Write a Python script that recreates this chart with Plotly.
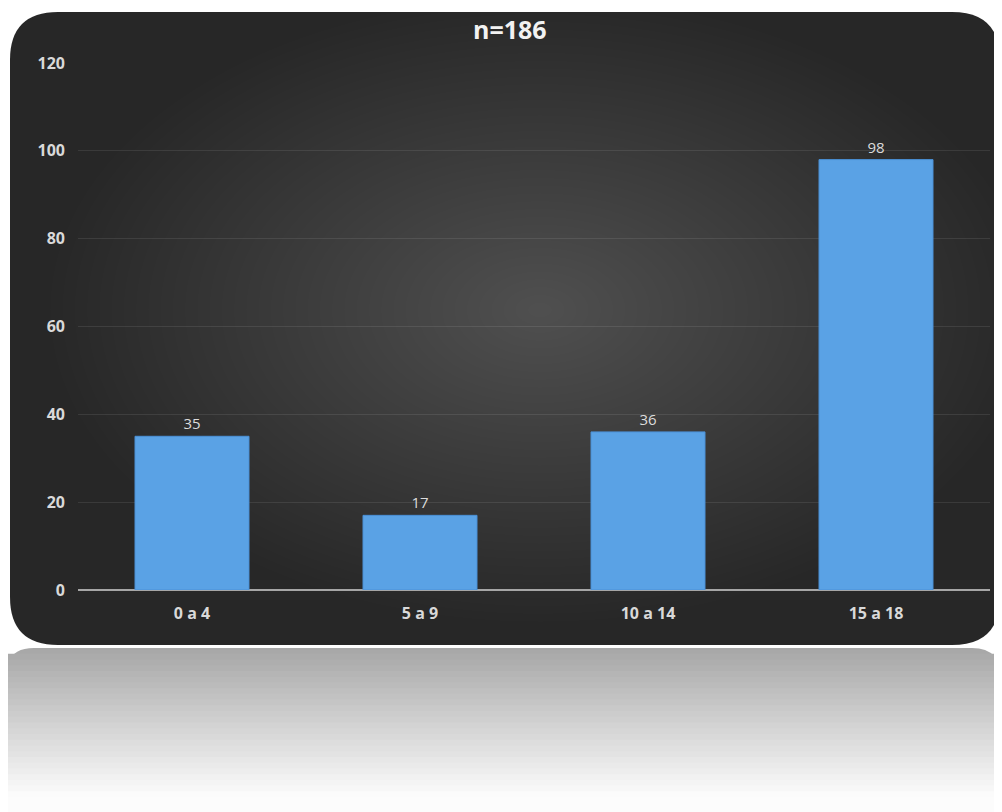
import plotly.graph_objects as go

categories = ["0 a 4", "5 a 9", "10 a 14", "15 a 18"]
values = [35, 17, 36, 98]
title_text = "n=186"
y_ticks = [0, 20, 40, 60, 80, 100, 120]

W, H = 1002, 812
OFF = 8  # page body margin
ML, MR, MT, MB = 70, 20, 55, 230
PW, PH = W - ML - MR, H - MT - MB


def px(x):
    return (x - OFF - ML) / PW


def py(y):
    return (H - MB - (y - OFF)) / PH


def rounded_rect(x0, y0, x1, y1, r):
    pts = [
        f"M{px(x0 + r)},{py(y0)}",
        f"L{px(x1 - r)},{py(y0)}",
        f"Q{px(x1)},{py(y0)} {px(x1)},{py(y0 + r)}",
        f"L{px(x1)},{py(y1 - r)}",
        f"Q{px(x1)},{py(y1)} {px(x1 - r)},{py(y1)}",
        f"L{px(x0 + r)},{py(y1)}",
        f"Q{px(x0)},{py(y1)} {px(x0)},{py(y1 - r)}",
        f"L{px(x0)},{py(y0 + r)}",
        f"Q{px(x0)},{py(y0)} {px(x0 + r)},{py(y0)}",
        "Z",
    ]
    return " ".join(pts)


shapes = []
# reflection (gray fading to white)
n_strips = 30
top, bottom = 648, 820
for i in range(n_strips):
    t = i / (n_strips - 1)
    y0 = top + (bottom - top) * i / n_strips
    y1 = top + (bottom - top) * (i + 1) / n_strips
    c = int(168 + (252 - 168) * min(1, t * 1.15))
    if i == 0:
        shapes.append(dict(type="path", xref="paper", yref="paper",
                           path=rounded_rect(6, y0, 1000, y1 + 30, 28),
                           fillcolor=f"rgb({c},{c},{c})", line=dict(width=0), layer="below"))
    else:
        shapes.append(dict(type="rect", xref="paper", yref="paper",
                           x0=px(6), x1=px(1000), y0=py(y0), y1=py(y1 + 1),
                           fillcolor=f"rgb({c},{c},{c})", line=dict(width=0), layer="below"))

# dark panel
shapes.append(dict(type="path", xref="paper", yref="paper",
                   path=rounded_rect(10, 12, 1000, 645, 48),
                   fillcolor="#272727", line=dict(width=0), layer="below"))
# radial glow
steps = 40
cx, cy = 540, 310
for k in range(steps):
    f = 1 - k / steps
    rx = 490 * f
    ry = 312 * f
    shapes.append(dict(type="circle", xref="paper", yref="paper",
                       x0=px(cx - rx), x1=px(cx + rx), y0=py(cy + ry), y1=py(cy - ry),
                       fillcolor="rgba(255,255,255,0.0062)", line=dict(width=0), layer="below"))

fig = go.Figure()
fig.add_trace(go.Bar(
    x=categories, y=values,
    marker=dict(color="#5aa2e5", line=dict(color="#4a90d6", width=1)),
    text=[str(v) for v in values], textposition="outside",
    textfont=dict(color="#dcdcdc", size=15, family="Open Sans"),
    cliponaxis=False, width=0.5,
))

fig.update_layout(
    width=W, height=H,
    margin=dict(l=ML, r=MR, t=MT, b=MB),
    paper_bgcolor="white", plot_bgcolor="rgba(0,0,0,0)",
    shapes=shapes,
    showlegend=False,
    font=dict(family="Open Sans", color="#d9d9d9", size=15),
    annotations=[dict(text=f"<b>{title_text}</b>", xref="paper", yref="paper",
                      x=px(510), y=py(29), xanchor="center", yanchor="middle",
                      showarrow=False,
                      font=dict(size=25, color="#f2f2f2", family="Open Sans"))],
    xaxis=dict(showgrid=False, showline=False, zeroline=False, ticks="",
               ticklabelstandoff=12,
               tickfont=dict(size=16, color="#d9d9d9", family="Open Sans", weight="bold")),
    yaxis=dict(range=[0, 120], tickvals=y_ticks, showgrid=True,
               gridcolor="rgba(255,255,255,0.09)", gridwidth=1,
               zeroline=True, zerolinecolor="#a6a6a6", zerolinewidth=2,
               showline=False, ticks="", ticklabelstandoff=12,
               tickfont=dict(size=16, color="#d9d9d9", family="Open Sans", weight="bold")),
)

fig.write_html("out.html")
